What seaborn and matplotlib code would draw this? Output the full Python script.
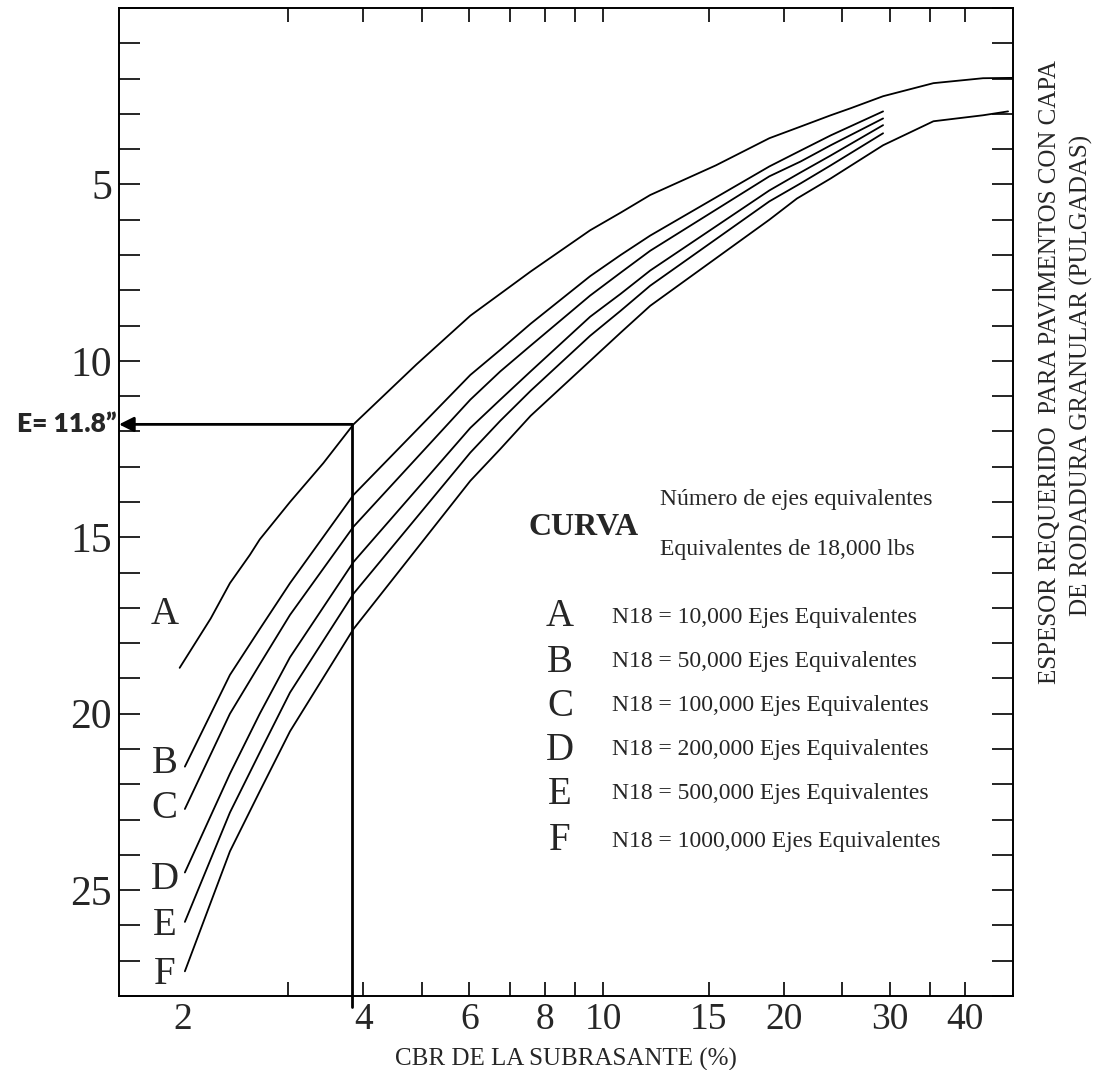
import matplotlib
import matplotlib.pyplot as plt
import numpy as np
import pandas as pd
import seaborn as sns
from matplotlib.ticker import FixedLocator, MultipleLocator, NullFormatter

# curvas (CBR %, espesor en pulgadas)
cbr_a = [1.98, 2.23, 2.40, 2.59, 2.69, 3.02, 3.43, 3.85, 4.9, 6.02, 6.75, 7.58,
         9.52, 10.7, 11.98, 15.4, 18.9, 21.3, 23.9, 25.8, 29.2, 35.4, 42.8, 47.9]
esp_a = [18.7, 17.3, 16.3, 15.5, 15.06, 14.0, 12.9, 11.8, 10.1, 8.72, 8.1, 7.47,
         6.3, 5.8, 5.3, 4.46, 3.69, 3.36, 3.04, 2.84, 2.5, 2.13, 1.99, 1.98]

cbr_medio = [2.02, 2.40, 2.69, 3.02, 3.85, 6.02, 6.75, 7.58, 9.52, 10.7, 11.98,
             18.9, 21.3, 23.9, 29.2]
esp_b = [21.5, 18.9, 17.6, 16.3, 13.8, 10.4, 9.69, 8.95, 7.6, 7.0, 6.45, 4.49, 4.04, 3.61, 2.93]
esp_c = [22.7, 20.0, 18.6, 17.2, 14.7, 11.1, 10.3, 9.57, 8.15, 7.5, 6.88, 4.77, 4.35, 3.89, 3.13]
esp_d = [24.5, 21.7, 20.0, 18.4, 15.7, 11.9, 11.1, 10.3, 8.75, 8.1, 7.44, 5.17, 4.66, 4.18, 3.32]
esp_e = [25.9, 22.8, 21.1, 19.4, 16.6, 12.6, 11.7, 10.85, 9.29, 8.58, 7.87, 5.48, 4.97, 4.46, 3.55]

cbr_f = [2.02, 2.40, 2.69, 3.02, 3.85, 6.02, 6.75, 7.58, 9.52, 10.7, 11.98, 18.9,
         21.0, 23.9, 29.2, 35.4, 42.8, 47.1]
esp_f = [27.3, 23.9, 22.2, 20.5, 17.6, 13.4, 12.5, 11.56, 10.0, 9.2, 8.44, 6.0,
         5.4, 4.83, 3.89, 3.21, 3.04, 2.93]

curvas = ["A", "B", "C", "D", "E", "F"]
ejes = ["10,000", "50,000", "100,000", "200,000", "500,000", "1000,000"]

x_ticks = [2, 4, 6, 8, 10, 15, 20, 30, 40]
x_minor = [3, 5, 7, 9, 25, 35]
y_ticks = [5, 10, 15, 20, 25]

cbr_diseno = 3.83
e_diseno = 11.8

# posicion de las letras junto a las curvas (espesor)
etiqueta_y = [17.2, 21.4, 22.7, 24.7, 26.0, 27.4]

W, H = 1106, 1070


def px(x, y):
    """pixeles de la figura -> fraccion"""
    return x / W, 1 - y / H


def build_frame():
    filas = []
    series = [(cbr_a, esp_a), (cbr_medio, esp_b), (cbr_medio, esp_c),
              (cbr_medio, esp_d), (cbr_medio, esp_e), (cbr_f, esp_f)]
    for nombre, (xs, ys) in zip(curvas, series):
        for x, y in zip(xs, ys):
            filas.append({"curva": nombre, "cbr": x, "espesor": y})
    return pd.DataFrame(filas)


sns.set_theme(style="ticks")
plt.rcParams["font.family"] = ["Liberation Serif", "DejaVu Sans"]
plt.rcParams["axes.linewidth"] = 1.4
plt.rcParams["lines.solid_joinstyle"] = "round"

fig = plt.figure(figsize=(W / 100, H / 100), dpi=100)
ax = fig.add_axes([119 / W, 1 - 996 / H, 894 / W, 988 / H])

df = build_frame()
sns.lineplot(data=df, x="cbr", y="espesor", hue="curva",
             palette={c: "black" for c in curvas}, estimator=None,
             linewidth=1.3, legend=False, ax=ax)

ax.set_xscale("log")
ax.set_xlim(1.57, 48)
ax.set_ylim(28, 0)

ax.xaxis.set_major_locator(FixedLocator(x_ticks))
ax.set_xticklabels([str(t) for t in x_ticks])
ax.xaxis.set_minor_locator(FixedLocator(x_minor))
ax.xaxis.set_minor_formatter(NullFormatter())
ax.set_yticks(y_ticks)
ax.set_yticklabels([str(t) for t in y_ticks])
ax.yaxis.set_minor_locator(MultipleLocator(1))

ax.tick_params(axis="x", which="both", direction="in", top=True, bottom=True,
               length=10, width=1.2, color="black", labelsize=27, pad=5)
ax.tick_params(axis="y", which="both", direction="in", left=True, right=True,
               length=15, width=1.2, color="black", labelsize=30, pad=5)
for t in ax.xaxis.get_major_ticks()[:1]:
    t.tick1line.set_visible(False)
    t.tick2line.set_visible(False)
for s in ax.spines.values():
    s.set_color("black")

ax.set_xlabel("")
ax.set_ylabel("")

# linea de diseno y flecha
ax.plot([cbr_diseno, cbr_diseno], [28.3, e_diseno], color="black", lw=2.0,
        clip_on=False)
ax.annotate("", xy=(1.57, e_diseno), xytext=(cbr_diseno, e_diseno),
            arrowprops=dict(arrowstyle="-|>", color="black", lw=2.0,
                            mutation_scale=22, shrinkA=0, shrinkB=0))
ax.text(-0.003, e_diseno, "E= 11.8\u201d", transform=ax.get_yaxis_transform(),
        ha="right", va="center", fontsize=19, fontweight="heavy",
        family=["Lato", "DejaVu Sans"])

# letras junto a las curvas
for nombre, yy in zip(curvas, etiqueta_y):
    ax.text(1.87, yy, nombre, ha="center", va="center", fontsize=28)

# leyenda
fig.text(*px(584, 528), "CURVA", ha="center", va="center", fontsize=23,
         fontweight="bold")
fig.text(*px(660, 500), "Número de ejes equivalentes", ha="left",
         va="center", fontsize=17)
fig.text(*px(660, 549), "Equivalentes de 18,000 lbs", ha="left",
         va="center", fontsize=17)
filas_y = [617, 662, 706, 750, 794, 841]
for nombre, n, yy in zip(curvas, ejes, filas_y):
    fig.text(*px(560, yy), nombre, ha="center", va="center", fontsize=28)
    fig.text(*px(612, yy), f"N18 = {n} Ejes Equivalentes", ha="left",
             va="center", fontsize=17)

fig.text(*px(566, 1059), "CBR DE LA SUBRASANTE (%)", ha="center",
         va="center", fontsize=18)
fig.text(*px(1050, 372), "ESPESOR REQUERIDO  PARA PAVIMENTOS CON CAPA",
         ha="center", va="center", rotation=90, fontsize=18)
fig.text(*px(1081, 375), "DE RODADURA GRANULAR (PULGADAS)",
         ha="center", va="center", rotation=90, fontsize=18)

fig.savefig("out.png", dpi=100)
